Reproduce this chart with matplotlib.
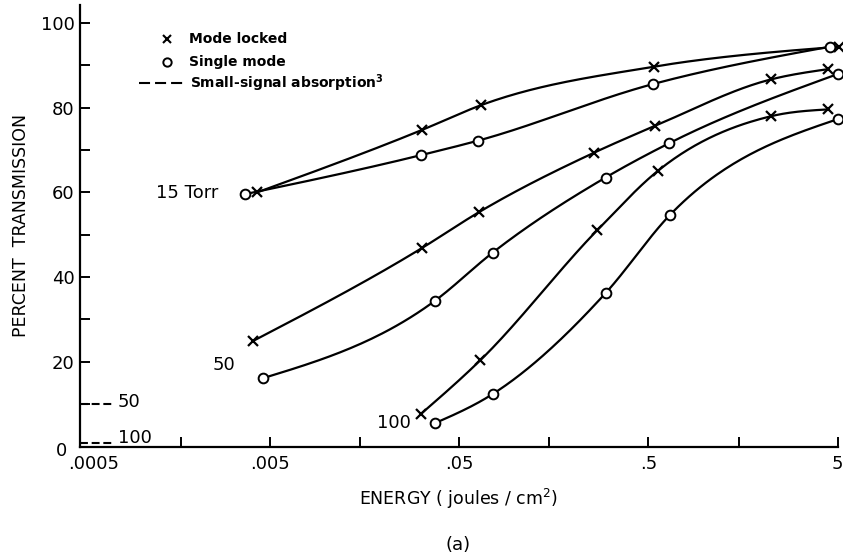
import numpy as np
import matplotlib
matplotlib.use("Agg")
import matplotlib.pyplot as plt
from matplotlib.transforms import ScaledTranslation

# ---- data (energy in joules/cm^2, percent transmission) ----
e15_ml = [0.00429, 0.0317, 0.0654, 0.538, 5.08]
t15_ml = [60.0, 74.7, 80.6, 89.7, 94.4]
e15_sm = [0.00372, 0.0315, 0.0628, 0.531, 4.55]
t15_sm = [59.6, 68.8, 72.2, 85.6, 94.4]

e50_ml = [0.00408, 0.0317, 0.0641, 0.259, 0.542, 2.23, 4.44]
t50_ml = [24.9, 46.8, 55.4, 69.4, 75.7, 86.7, 89.1]
e50_sm = [0.00459, 0.0373, 0.0754, 0.297, 0.643, 5.04]
t50_sm = [16.1, 34.4, 45.8, 63.5, 71.6, 88.0]

e100_ml = [0.0315, 0.0649, 0.269, 0.562, 2.23, 4.44]
t100_ml = [7.7, 20.4, 51.1, 65.1, 78.0, 79.6]
e100_sm = [0.0373, 0.0754, 0.297, 0.651, 5.0]
t100_sm = [5.5, 12.4, 36.2, 54.7, 77.3]

small_signal_pressures = ["50", "100"]
small_signal_values = [10.0, 0.8]

xtick_vals = [0.0005, 0.005, 0.05, 0.5, 5]
xtick_labels = [".0005", ".005", ".05", ".5", "5"]
xminor_vals = [0.0017, 0.015, 0.15, 1.5]
ytick_vals = [0, 20, 40, 60, 80, 100]
yminor_vals = [10, 30, 50, 70, 90]


def smooth(x, y, n=240):
    """Hermite curve with parabolic (Bessel) slopes, in log10(x) space."""
    lx = np.log10(np.asarray(x, float))
    y = np.asarray(y, float)
    m = len(lx)
    h = np.diff(lx)
    delta = np.diff(y) / h
    d = np.zeros(m)
    for i in range(1, m - 1):
        d[i] = (h[i] * delta[i - 1] + h[i - 1] * delta[i]) / (h[i - 1] + h[i])
    if m > 2:
        d[0] = 2 * delta[0] - d[1]
        d[-1] = 2 * delta[-1] - d[-2]
        d[0] = 0.5 * (d[0] + delta[0])
        d[-1] = 0.5 * (d[-1] + delta[-1])
    else:
        d[:] = delta[0]
    xs, ys = [], []
    for i in range(m - 1):
        t = np.linspace(0, 1, n // (m - 1) + 2)
        h00 = 2 * t**3 - 3 * t**2 + 1
        h10 = t**3 - 2 * t**2 + t
        h01 = -2 * t**3 + 3 * t**2
        h11 = t**3 - t**2
        xs.append(lx[i] + t * h[i])
        ys.append(h00 * y[i] + h10 * h[i] * d[i] + h01 * y[i + 1] + h11 * h[i] * d[i + 1])
    return 10 ** np.concatenate(xs), np.concatenate(ys)


plt.rcParams['font.family'] = ['DejaVu Sans']
fig = plt.figure(figsize=(8.43, 5.59), dpi=100)
ax = fig.add_axes([80.3 / 843, (559 - 446.5) / 559, (837.7 - 80.3) / 843, (446.5 - 5) / 559])
ax.set_xscale('log')
ax.set_xlim(0.0005, 5)
ax.set_ylim(0, 441.5 / 4.235)

lw = 1.6
for ex, ty, mk in [(e15_ml, t15_ml, 'x'), (e15_sm, t15_sm, 'o'),
                   (e50_ml, t50_ml, 'x'), (e50_sm, t50_sm, 'o'),
                   (e100_ml, t100_ml, 'x'), (e100_sm, t100_sm, 'o')]:
    sx, sy = smooth(ex, ty)
    ax.plot(sx, sy, color='black', lw=lw, clip_on=False, zorder=2)
    if mk == 'x':
        ax.plot(ex, ty, ls='none', marker='x', ms=7, mew=1.6, color='black',
                clip_on=False, zorder=3)
    else:
        ax.plot(ex, ty, ls='none', marker='o', ms=7, mew=1.4, mfc='white',
                mec='black', clip_on=False, zorder=3)

# small-signal absorption marks at the y axis
for lab, val in zip(small_signal_pressures, small_signal_values):
    ax.plot([0.0005, 0.00076], [val, val], color='black', lw=1.5,
            dashes=(3.8, 1.8), clip_on=False)
    ax.text(0.00079, val + (0.4 if lab == "50" else 1.2), lab, fontsize=13,
            ha='left', va='center')

# curve labels
ax.text(0.00267, 59.9, "15 Torr", fontsize=13, ha='right', va='center')
ax.text(0.00286, 19.2, "50", fontsize=13, ha='center', va='center')
ax.text(0.0226, 5.5, "100", fontsize=13, ha='center', va='center')

# legend (hand-drawn style)
ax.plot([0.001435], [96.2], ls='none', marker='x', ms=6, mew=1.5, color='black')
ax.text(0.00188, 96.2, "Mode locked", fontsize=10, fontweight='bold',
        ha='left', va='center')
ax.plot([0.001435], [90.7], ls='none', marker='o', ms=6, mew=1.4,
        mfc='white', mec='black')
ax.text(0.00188, 90.7, "Single mode", fontsize=10, fontweight='bold',
        ha='left', va='center')
ax.plot([0.00102, 0.00179], [85.8, 85.8], color='black', lw=1.5, dashes=(5.3, 2.4))
ax.text(0.00190, 85.8, r"Small-signal absorption$^{\mathbf{3}}$", fontsize=10,
        fontweight='bold', ha='left', va='center')

# axes styling
for s in ['top', 'right']:
    ax.spines[s].set_visible(False)
for s in ['left', 'bottom']:
    ax.spines[s].set_linewidth(1.6)

ax.set_xticks(xtick_vals)
ax.set_xticklabels(xtick_labels, fontsize=13)
ax.set_xticks(xminor_vals, minor=True)
ax.set_xticklabels([], minor=True)
ax.set_yticks(ytick_vals)
ax.set_yticklabels([str(v) for v in ytick_vals], fontsize=13)
ax.set_yticks(yminor_vals, minor=True)
ax.tick_params(axis='both', which='both', direction='in', width=1.4,
               length=7)
ax.tick_params(axis='x', which='both', pad=6)
ax.tick_params(axis='y', which='both', pad=4)

lbl0 = ax.get_xticklabels()[0]
lbl0.set_transform(lbl0.get_transform() + ScaledTranslation(0.13, 0, fig.dpi_scale_trans))
ylbl0 = ax.get_yticklabels()[0]
ylbl0.set_transform(ylbl0.get_transform() + ScaledTranslation(-0.08, -0.02, fig.dpi_scale_trans))

ax.set_ylabel("PERCENT  TRANSMISSION", fontsize=12.5, labelpad=8)
ax.set_xlabel("ENERGY ( joules / cm$^2$)", fontsize=12.5, labelpad=10)

fig.text(458 / 843, 1 - 545 / 559, "(a)", fontsize=13, ha='center', va='center')

fig.savefig("out.png", dpi=100)
